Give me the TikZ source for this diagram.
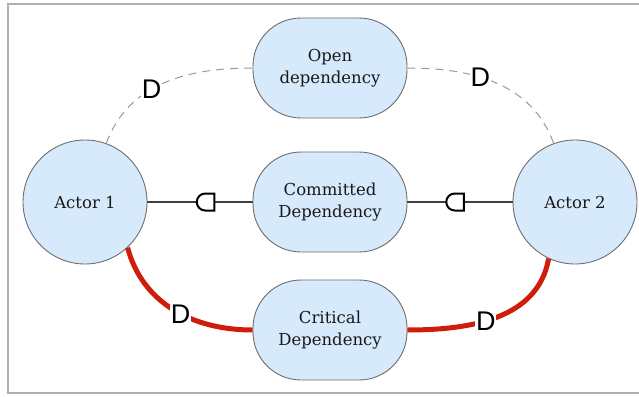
\documentclass[tikz,border=0pt]{standalone}
\usepackage{fontspec}
\setmainfont{DejaVu Serif}
\newfontfamily\labelfont{Liberation Sans}
\usetikzlibrary{calc}
\definecolor{boxfill}{RGB}{214,234,252}
\definecolor{boxline}{RGB}{110,110,110}
\definecolor{critred}{RGB}{208,28,10}
\definecolor{framegray}{RGB}{175,175,175}
\tikzset{
  x=1pt, y=1pt,
  actor/.style={circle, draw=boxline, fill=boxfill, line width=0.9pt,
    minimum size=124pt, inner sep=0pt, text=black!90,
    font=\fontsize{16.5}{20}\selectfont},
  depbox/.style={rectangle, rounded corners=48pt, draw=boxline, fill=boxfill,
    line width=0.9pt, minimum width=154pt, minimum height=100pt,
    align=center, text=black!90, font=\fontsize{16.5}{22}\selectfont},
  openlink/.style={draw=black!40, line width=1pt, dash pattern=on 8pt off 6pt},
  commitlink/.style={draw=black!75, line width=1.4pt},
  critlink/.style={draw=critred, line width=5pt},
  dlabel/.style={fill=white, inner sep=0.6pt, font=\labelfont\fontsize{27}{27}\selectfont},
  cmark/.pic={\draw[line width=2pt, fill=white]
      (9,8.5) -- (0,8.5) arc[start angle=90, end angle=270, radius=8.5] -- (9,-8.5) -- cycle;}
}
\begin{document}
\begin{tikzpicture}
\useasboundingbox (0,0) rectangle (639,-396);
% outer frame
\draw[framegray, line width=2pt] (8,-4) rectangle (680,-393);

% actors and dependums
\node[actor] (a1) at (85,-202) {Actor 1};
\node[actor] (a2) at (575,-202) {Actor 2};
\node[depbox] (open) at (330,-68) {Open\\dependency};
\node[depbox] (comm) at (330,-202) {Committed\\Dependency};
\node[depbox] (crit) at (330,-330) {Critical\\Dependency};

% open dependency links
\path[openlink] (a1.70) to[out=70, in=180]
  node[dlabel, pos=0.42] (d1) {D} (open.west);
\path[openlink] (open.east) to[out=0, in=110]
  node[dlabel, pos=0.4] (d2) {D} (a2.110);

% committed dependency links
\draw[commitlink] (a1.east) -- coordinate[pos=0.55] (m1) (comm.west);
\draw[commitlink] (comm.east) -- coordinate[pos=0.45] (m2) (a2.west);
\pic at (m1) {cmark};
\pic at (m2) {cmark};

% critical dependency links
\path[critlink] (a1.-47) to[out=-75, in=180]
  node[dlabel, pos=0.55] (d3) {D} (crit.west);
\path[critlink] (crit.east) to[out=0, in=-100]
  node[dlabel, pos=0.43] (d4) {D} (a2.-115);
\end{tikzpicture}
\end{document}
